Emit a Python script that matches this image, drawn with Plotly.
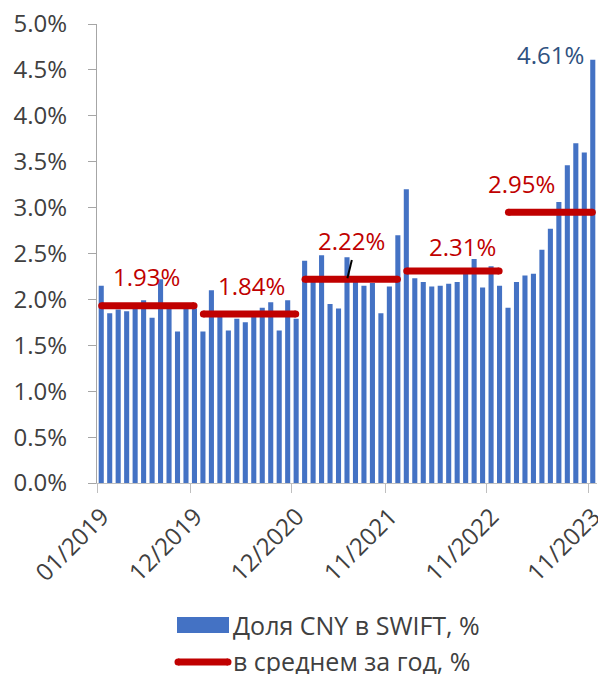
import plotly.graph_objects as go

# ---- data ----
months = [f"{m:02d}/{y}" for y in range(2019, 2024) for m in range(1, 13)][:59]
share_2019 = [2.15, 1.85, 1.89, 1.87, 1.92, 1.99, 1.80, 2.22, 1.91, 1.65, 1.90, 1.90]
share_2020 = [1.65, 2.10, 1.85, 1.66, 1.79, 1.75, 1.83, 1.91, 1.97, 1.66, 1.99, 1.79]
share_2021 = [2.42, 2.22, 2.48, 1.95, 1.90, 2.46, 2.20, 2.15, 2.18, 1.85, 2.14, 2.70]
share_2022 = [3.20, 2.23, 2.19, 2.14, 2.15, 2.17, 2.19, 2.30, 2.44, 2.13, 2.36, 2.15]
share_2023 = [1.91, 2.19, 2.26, 2.28, 2.54, 2.77, 3.06, 3.46, 3.70, 3.60, 4.61]
share = share_2019 + share_2020 + share_2021 + share_2022 + share_2023
years = ["2019", "2020", "2021", "2022", "2023"]
year_avg = [1.93, 1.84, 2.22, 2.31, 2.95]
tick_labels = ["01/2019", "12/2019", "12/2020", "11/2021", "11/2022", "11/2023"]

BLUE = "#4472C4"
RED = "#C00000"
TXT = "#404040"
FONT = "Open Sans"

fig = go.Figure()

# bars (category i centred at i+0.5)
xs = [i + 0.5 for i in range(len(months))]
fig.add_trace(go.Bar(x=xs, y=share, width=0.6, marker=dict(color=BLUE, line=dict(width=0)),
                     name="Доля CNY в SWIFT, %", showlegend=False))

# yearly averages (thick line with round ends via end markers)
lx, ly = [], []
seg = []
for yr, avg in zip(years, year_avg):
    idx = [i for i, m in enumerate(months) if m.endswith(yr)]
    x0, x1 = idx[0], idx[-1] + 1
    seg.append((x0, x1))
    lx += [x0 + 0.55, x1 - 0.55, None]
    ly += [avg, avg, None]
fig.add_trace(go.Scatter(x=lx, y=ly, mode="lines+markers", line=dict(color=RED, width=7),
                         marker=dict(color=RED, size=7, symbol="circle", line=dict(width=0)),
                         name="в среднем за год, %", showlegend=False, hoverinfo="skip"))

# average labels
label_shift = [(-1, 29), (2, 29), (0, 39), (10, 24), (-29, 29)]
for (x0, x1), avg, (dx, dy) in zip(seg, year_avg, label_shift):
    fig.add_annotation(x=(x0 + x1) / 2, y=avg, text=f"{avg:.2f}%", showarrow=False,
                       xanchor="center", yanchor="middle", xshift=dx, yshift=dy,
                       font=dict(family=FONT, size=24, color=RED))

# last value label
fig.add_annotation(x=xs[-1], y=share[-1], text=f"{share[-1]:.2f}%", showarrow=False,
                   xanchor="right", yanchor="middle", xshift=-7, yshift=5,
                   font=dict(family=FONT, size=24, color="#2F5180"))

# small leader line near 2.22% label
fig.add_shape(type="line", xref="x", yref="y", x0=29.55, y0=2.23, x1=30.07, y1=2.43,
              line=dict(color="black", width=2))

# custom legend (pixel positions converted to paper coords)
def px(x):
    return (x - 97) / 500

def py(y):
    return (483 - y) / 459

fig.add_shape(type="rect", xref="paper", yref="paper",
              x0=px(177), x1=px(229), y0=py(633), y1=py(617),
              fillcolor=BLUE, line=dict(width=0))
fig.add_shape(type="line", xref="paper", yref="paper",
              x0=px(178), x1=px(228), y0=py(662), y1=py(662),
              line=dict(color=RED, width=7))
for cx in (178, 228):
    fig.add_shape(type="circle", xref="paper", yref="paper",
                  x0=px(cx - 3.5), x1=px(cx + 3.5), y0=py(662 + 3.5), y1=py(662 - 3.5),
                  fillcolor=RED, line=dict(width=0))
fig.add_annotation(xref="paper", yref="paper", x=px(232), y=py(625),
                   text="Доля CNY в SWIFT, %", showarrow=False, xanchor="left", yanchor="middle",
                   borderpad=0, font=dict(family=FONT, size=25, color=TXT))
fig.add_annotation(xref="paper", yref="paper", x=px(232), y=py(661),
                   text="в среднем за год, %", showarrow=False, xanchor="left", yanchor="middle",
                   borderpad=0, font=dict(family=FONT, size=25, color=TXT))

fig.update_layout(
    width=598, height=674,
    margin=dict(l=97, r=1, t=24, b=191),
    paper_bgcolor="white", plot_bgcolor="white",
    font=dict(family=FONT, size=24, color=TXT),
    bargap=0.4,
)
fig.update_xaxes(
    range=[0, len(months)],
    automargin=False,
    tickmode="array",
    tickvals=[months.index(t) for t in tick_labels],
    ticktext=tick_labels,
    tickangle=-45,
    ticklabeloverflow="allow",
    ticklabelshift=5,
    ticks="outside", ticklen=9, tickcolor="#BFBFBF",
    showline=True, linecolor="#BFBFBF", linewidth=1,
    showgrid=False, zeroline=False,
    tickfont=dict(family=FONT, size=24, color=TXT),
)
fig.update_yaxes(
    range=[0, 5], dtick=0.5, tick0=0,
    automargin=False,
    tickformat=".1f", ticksuffix="%",
    ticks="outside", ticklen=8, tickcolor="#A6A6A6",
    showline=True, linecolor="#A6A6A6", linewidth=1,
    showgrid=False, zeroline=False,
    ticklabelstandoff=16,
    tickfont=dict(family=FONT, size=24, color=TXT),
)

fig.write_html("out.html", config={"displayModeBar": False},
               post_script="document.body.style.margin='0';document.body.style.overflow='hidden';")
